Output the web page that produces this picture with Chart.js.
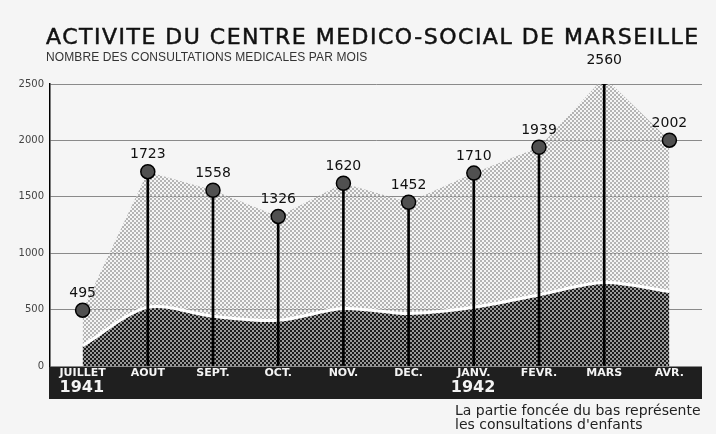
<!DOCTYPE html>
<html>
<head>
<meta charset="utf-8">
<script src="https://cdn.jsdelivr.net/npm/chart.js@4"></script>
<style>
  body { margin: 0; background: #f5f5f5; }
  #wrap { position: relative; width: 716px; height: 434px; }
  canvas { position: absolute; left: 0; top: 0; }
  .txt { position: absolute; font-family: "DejaVu Sans", sans-serif; white-space: nowrap; color: #111; }
  #title { left: 46px; top: 24px; font-size: 22px; letter-spacing: 1.5px; line-height: 26px; -webkit-text-stroke: 0.5px #111; }
  #subtitle { left: 46px; top: 50px; font-family: "Liberation Sans", sans-serif; font-size: 12px; letter-spacing: 0.1px; color: #333; line-height: 14px; }
  #note { left: 455px; top: 403px; font-size: 14px; line-height: 14px; color: #222; }
</style>
</head>
<body>
<div id="wrap">
  <canvas id="chart" width="716" height="434"></canvas>
  <div class="txt" id="title">ACTIVITE DU CENTRE MEDICO-SOCIAL DE MARSEILLE</div>
  <div class="txt" id="subtitle">NOMBRE DES CONSULTATIONS MEDICALES PAR MOIS</div>
  <div class="txt" id="note">La partie foncée du bas représente<br>les consultations d'enfants</div>
</div>
<script>
const months = ["JUILLET", "AOUT", "SEPT.", "OCT.", "NOV.", "DEC.", "JANV.", "FEVR.", "MARS", "AVR."];
const totalConsultations = [495, 1723, 1558, 1326, 1620, 1452, 1710, 1939, 2560, 2002];
// children's part (approximate)
const childConsultations = [180, 520, 440, 405, 510, 465, 520, 630, 740, 660];
const yearLabels = [{ index: 0, text: "1941" }, { index: 6, text: "1942" }];
const yTicks = [0, 500, 1000, 1500, 2000, 2500];

// stems only between first and last month
const stems = totalConsultations.map((v, i) =>
  i === 0 || i === totalConsultations.length - 1 ? null : v
);

function dotPattern(bg, dot) {
  const c = document.createElement("canvas");
  c.width = 4;
  c.height = 4;
  const g = c.getContext("2d");
  if (bg) {
    g.fillStyle = bg;
    g.fillRect(0, 0, 4, 4);
  }
  g.fillStyle = dot;
  g.fillRect(0, 0, 2, 2);
  g.fillRect(2, 2, 2, 2);
  return g.createPattern(c, "repeat");
}

const ctx = document.getElementById("chart").getContext("2d");
const lightFill = dotPattern(null, "#b4b4b4");
const darkFill = dotPattern("#999999", "#1a1a1a");

// dark band under the plot with month names and years
const bandPlugin = {
  id: "band",
  beforeDraw(chart) {
    const a = chart.chartArea;
    const c = chart.ctx;
    c.save();
    c.fillStyle = "#1f1f1f";
    c.fillRect(a.left - 1, a.bottom + 1, a.right - a.left + 1, 32);
    c.restore();
  },
  afterDraw(chart) {
    const x = chart.scales.x;
    const a = chart.chartArea;
    const c = chart.ctx;
    c.save();
    c.fillStyle = "#f4f4f4";
    c.font = "bold 16px 'DejaVu Sans'";
    c.textBaseline = "middle";
    c.textAlign = "left";
    yearLabels.forEach((y) => {
      const px = x.getPixelForValue(y.index);
      c.fillText(y.text, px - 23, a.bottom + 22);
    });
    c.restore();
  },
};

// numbers written above the circles
const valuePlugin = {
  id: "values",
  afterDatasetsDraw(chart) {
    const meta = chart.getDatasetMeta(0);
    const c = chart.ctx;
    c.save();
    c.fillStyle = "#111";
    c.font = "14px 'DejaVu Sans'";
    c.textAlign = "center";
    c.textBaseline = "middle";
    meta.data.forEach((pt, i) => {
      c.fillText(String(totalConsultations[i]), pt.x, pt.y - 17);
    });
    c.restore();
  },
};

new Chart(ctx, {
  data: {
    labels: months,
    datasets: [
      {
        type: "line",
        label: "markers",
        data: totalConsultations,
        showLine: false,
        pointRadius: 7,
        pointBackgroundColor: "#505050",
        pointBorderColor: "#000",
        pointBorderWidth: 1.5,
        order: 0,
      },
      {
        type: "bar",
        label: "stems",
        data: stems,
        backgroundColor: "#000",
        barThickness: 2,
        order: 1,
      },
      {
        type: "line",
        label: "enfants",
        data: childConsultations,
        borderColor: "#fff",
        borderWidth: 3,
        tension: 0.3,
        pointRadius: 0,
        fill: "origin",
        backgroundColor: darkFill,
        order: 2,
      },
      {
        type: "line",
        label: "total",
        data: totalConsultations,
        borderWidth: 0,
        borderColor: "rgba(0,0,0,0)",
        pointRadius: 0,
        fill: "origin",
        backgroundColor: lightFill,
        order: 3,
      },
    ],
  },
  options: {
    responsive: false,
    animation: false,
    layout: { padding: { top: 84, right: 14, bottom: 36, left: 0 } },
    plugins: {
      legend: { display: false },
      tooltip: { enabled: false },
    },
    scales: {
      x: {
        offset: true,
        grid: { display: false, drawTicks: false },
        border: { display: false },
        ticks: {
          color: "#f4f4f4",
          font: { family: "DejaVu Sans", size: 11, weight: "bold" },
          padding: 1,
          maxRotation: 0,
          autoSkip: false,
        },
        afterFit(scale) {
          scale.height = 32;
        },
      },
      y: {
        min: 0,
        max: 2500,
        afterBuildTicks(scale) {
          scale.ticks = yTicks.map((v) => ({ value: v }));
        },
        grid: { color: "#8a8a8a", lineWidth: 1, drawTicks: false },
        border: { color: "#000", width: 1.5 },
        ticks: {
          color: "#444",
          font: { family: "DejaVu Sans", size: 10 },
          padding: 6,
          callback: (v) => String(v),
        },
        afterFit(scale) {
          scale.width = 50;
        },
      },
    },
  },
  plugins: [bandPlugin, valuePlugin],
});
</script>
</body>
</html>
